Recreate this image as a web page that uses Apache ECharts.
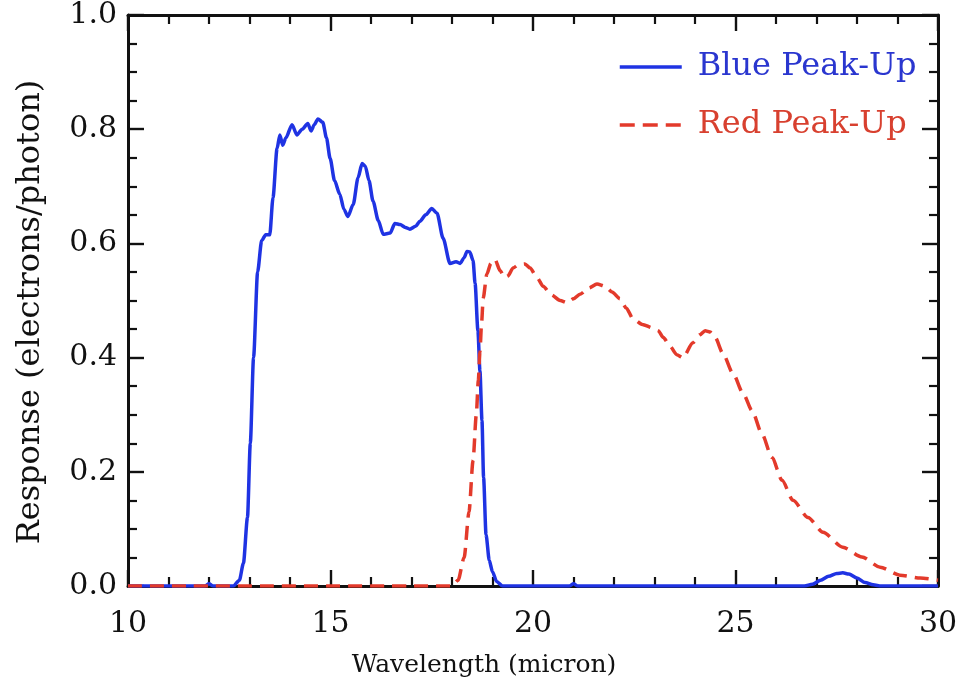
<!DOCTYPE html>
<html>
<head>
<meta charset="utf-8">
<script src="https://cdn.jsdelivr.net/npm/echarts@6/dist/echarts.min.js"></script>
<style>
  html, body { margin: 0; padding: 0; background: #ffffff; }
  #chart { width: 961px; height: 687px; }
</style>
</head>
<body>
<div id="chart"></div>
<script>
// Peak-up array spectral response curves (wavelength in micron, response in electrons/photon)
const blueWavelength = [10, 11.9, 12.0, 12.1, 12.6, 12.75, 12.85, 12.95, 13.02, 13.1, 13.2, 13.3, 13.4, 13.5, 13.58,
  13.68, 13.75, 13.82, 13.9, 14.05, 14.17, 14.3, 14.44, 14.52, 14.6, 14.69, 14.81, 14.9, 14.99, 15.1,
  15.23, 15.33, 15.43, 15.56, 15.68, 15.78, 15.86, 15.95, 16.05, 16.18, 16.3, 16.47, 16.59, 16.72, 16.85,
  16.96, 17.1, 17.21, 17.35, 17.5, 17.63, 17.78, 17.95, 18.1, 18.2, 18.3, 18.37, 18.44, 18.52, 18.57,
  18.64, 18.69, 18.74, 18.78, 18.84, 18.92, 19.0, 19.1, 19.25, 19.6, 20.9, 21.0, 21.1, 26.7, 26.9,
  27.1, 27.3, 27.5, 27.65, 27.8, 28.0, 28.2, 28.4, 28.6, 29.0, 30];
const blueResponse = [0, 0, 0.004, 0, 0, 0.01, 0.04, 0.12, 0.25, 0.4, 0.55, 0.605, 0.615, 0.615, 0.68,
  0.766, 0.79, 0.772, 0.785, 0.808, 0.79, 0.8, 0.81, 0.797, 0.808, 0.818, 0.812, 0.785, 0.749, 0.71,
  0.686, 0.66, 0.647, 0.668, 0.715, 0.74, 0.735, 0.71, 0.674, 0.64, 0.616, 0.618, 0.635, 0.633, 0.628,
  0.625, 0.63, 0.639, 0.65, 0.661, 0.653, 0.609, 0.565, 0.568, 0.565, 0.575, 0.586, 0.585, 0.57, 0.53,
  0.447, 0.377, 0.29, 0.19, 0.09, 0.045, 0.025, 0.008, 0, 0, 0, 0.004, 0, 0, 0.003,
  0.01, 0.017, 0.022, 0.023, 0.021, 0.014, 0.006, 0.002, 0, 0, 0];

const redWavelength = [10, 18.0, 18.15, 18.3, 18.42, 18.52, 18.6, 18.65, 18.69, 18.73, 18.77, 18.86, 18.96, 19.06,
  19.19, 19.3, 19.38, 19.51, 19.65, 19.8, 19.93, 20.1, 20.25, 20.45, 20.67, 20.84, 21.0, 21.16, 21.38,
  21.58, 21.78, 21.95, 22.15, 22.3, 22.47, 22.7, 22.96, 23.09, 23.22, 23.38, 23.55, 23.7, 23.95, 24.12,
  24.25, 24.37, 24.5, 24.69, 24.94, 25.19, 25.41, 25.65, 25.9, 26.15, 26.42, 26.79, 27.16, 27.65, 28.12,
  28.57, 29.06, 29.56, 30];
const redResponse = [0, 0, 0.01, 0.05, 0.13, 0.22, 0.3, 0.36, 0.41, 0.46, 0.504, 0.546, 0.565, 0.572,
  0.552, 0.54, 0.543, 0.557, 0.563, 0.564, 0.557, 0.54, 0.525, 0.51, 0.5, 0.496, 0.503, 0.511, 0.522,
  0.529, 0.525, 0.515, 0.503, 0.487, 0.468, 0.458, 0.452, 0.447, 0.435, 0.42, 0.405, 0.4, 0.426, 0.44,
  0.447, 0.445, 0.435, 0.407, 0.372, 0.337, 0.307, 0.267, 0.225, 0.185, 0.15, 0.12, 0.094, 0.068, 0.051,
  0.033, 0.019, 0.014, 0.01];

const seriesNames = ['Blue Peak-Up', 'Red Peak-Up'];
const xTitle = 'Wavelength (micron)';
const yTitle = 'Response (electrons/photon)';
const xRange = [10, 30, 5];   // min, max, major step
const yRange = [0, 1, 0.2];

const FONT = '"DejaVu Serif", "Liberation Serif", serif';
const INK = '#111111';
const BLUE = '#1f33e3';
const RED = '#e33a2b';
const RED_DASH = [14, 8];

const pairs = (xs, ys) => xs.map((x, i) => [x, ys[i]]);

function frameAxis(kind, position, showLabels) {
  const isX = kind === 'x';
  const r = isX ? xRange : yRange;
  return {
    type: 'value',
    position: position,
    min: r[0], max: r[1], interval: r[2],
    axisLine: { show: true, onZero: false, lineStyle: { color: INK, width: 3 } },
    axisTick: { show: true, inside: true, length: 16, lineStyle: { color: INK, width: 2.4 } },
    minorTick: { show: true, splitNumber: isX ? 5 : 4, length: 9, lineStyle: { color: INK, width: 2.2 } },
    splitLine: { show: false },
    minorSplitLine: { show: false },
    axisLabel: {
      show: showLabels,
      color: INK,
      fontFamily: FONT,
      fontSize: 30,
      margin: isX ? 23 : 11,
      formatter: isX ? (v) => String(v) : (v) => v.toFixed(1)
    }
  };
}

const chart = echarts.init(document.getElementById('chart'), null, { renderer: 'canvas' });

chart.setOption({
  backgroundColor: '#ffffff',
  animation: false,
  grid: { left: 128, right: 23, top: 13, bottom: 101, containLabel: false },
  xAxis: [frameAxis('x', 'bottom', true), frameAxis('x', 'top', false)],
  yAxis: [frameAxis('y', 'left', true), frameAxis('y', 'right', false)],
  legend: {
    orient: 'vertical',
    left: 613,
    top: 46,
    itemWidth: 62,
    itemHeight: 20,
    itemGap: 26,
    itemStyle: { opacity: 0 },
    textStyle: { fontFamily: FONT, fontSize: 32, padding: [0, 0, 0, 11] },
    data: [
      { name: seriesNames[0], textStyle: { color: '#2a36cf' },
        lineStyle: { color: BLUE, width: 3.5, type: 'solid' } },
      { name: seriesNames[1], textStyle: { color: '#d8402f' },
        lineStyle: { color: RED, width: 3.5, type: [15, 8] } }
    ]
  },
  graphic: [
    {
      type: 'text', x: 484, y: 665,
      style: { text: xTitle, fill: INK, font: '25px ' + FONT, textAlign: 'center', textVerticalAlign: 'middle' }
    },
    {
      type: 'text', x: 31, y: 312, rotation: Math.PI / 2,
      style: { text: yTitle, fill: INK, font: '32px ' + FONT, textAlign: 'center', textVerticalAlign: 'middle' }
    }
  ],
  series: [
    {
      name: seriesNames[0],
      type: 'line',
      data: pairs(blueWavelength, blueResponse),
      symbol: 'none',
      smooth: 0.25,
      smoothMonotone: 'x',
      lineStyle: { color: BLUE, width: 3.5 },
      itemStyle: { color: BLUE }
    },
    {
      name: seriesNames[1],
      type: 'line',
      data: pairs(redWavelength, redResponse),
      symbol: 'none',
      smooth: 0.25,
      smoothMonotone: 'x',
      lineStyle: { color: RED, width: 3.5, type: RED_DASH },
      itemStyle: { color: RED }
    }
  ]
});
</script>
</body>
</html>
